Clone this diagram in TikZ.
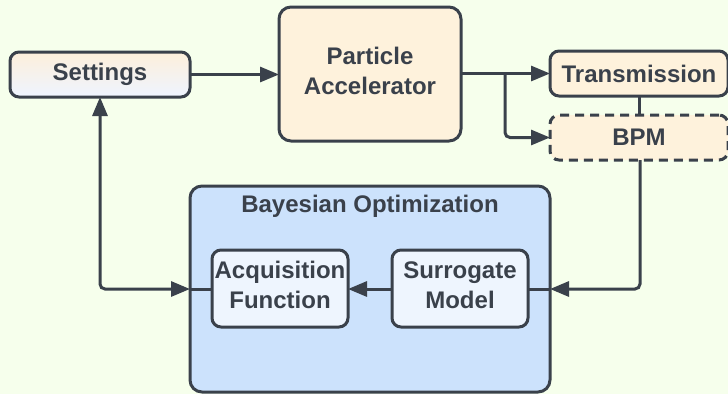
\documentclass[tikz,border=0pt]{standalone}
\usepackage{fontspec}
\setmainfont{Liberation Sans}
\usetikzlibrary{arrows.meta,positioning}
\definecolor{bgc}{HTML}{F6FFEC}
\definecolor{ink}{HTML}{3A414B}
\definecolor{orangefill}{HTML}{FEF2DC}
\definecolor{bofill}{HTML}{CCE2FC}
\definecolor{innerfill}{HTML}{EEF5FE}
\definecolor{gradtop}{HTML}{FDEFDB}
\definecolor{gradbot}{HTML}{EEF4FF}
\tikzset{
  txt/.style={text=ink, font=\fontsize{24}{30}\selectfont\bfseries, align=center},
  box/.style={txt, draw=ink, line width=3pt, rounded corners=9pt, inner sep=0pt, outer sep=0pt},
  twoline/.style={label={[txt, yshift=3.5pt]center:#1}},
  conn/.style={draw=ink, line width=3pt, rounded corners=5pt},
  head/.tip={Triangle[length=19pt,width=15pt]},
  tip/.style={-head},
}
\begin{document}
\begin{tikzpicture}[x=1pt,y=-1pt]
\fill[bgc] (0,0) rectangle (728,394);
\useasboundingbox (0,0) rectangle (728,394);
% boxes
\node[box, top color=gradtop, bottom color=gradbot, minimum width=180pt, minimum height=45pt] (set) at (100,74.5) {Settings};
\node[box, fill=orangefill, minimum width=182pt, minimum height=134pt, rounded corners=12pt, twoline={Particle\\Accelerator}] (acc) at (370,74) {};
\node[box, fill=orangefill, minimum width=178pt, minimum height=45pt] (tr) at (639,73.5) {Transmission};
\node[box, fill=orangefill, minimum width=178pt, minimum height=45pt, dash pattern=on 9pt off 6pt] (bpm) at (639,137.5) {BPM};
\node[box, fill=bofill, minimum width=360pt, minimum height=206pt, rounded corners=12pt] (bo) at (370,289) {};
\node[txt, anchor=center] (botitle) at (370,206) {Bayesian Optimization};
\node[box, fill=innerfill, minimum width=136pt, minimum height=77pt, twoline={Acquisition\\Function}] (acq) at (280,288.5) {};
\node[box, fill=innerfill, minimum width=136pt, minimum height=77pt, twoline={Surrogate\\Model}] (sur) at (460,288.5) {};
% connectors
\draw[conn, tip] (set.east) -- (acc.west |- set.east);
\draw[conn, tip] (acc.east |- tr.west) -- (tr.west);
\coordinate (br) at (505,73.5);
\draw[conn, tip] (br) |- (bpm.west);
\draw[conn] (tr.south) -- (bpm.north);
\coordinate (rc) at (640,289);
\draw[conn, tip] (bpm.south -| rc) |- (bo.east |- rc);
\draw[conn] (bo.east |- rc) -- (sur.east |- rc);
\draw[conn, tip] (sur.west |- rc) -- (acq.east |- rc);
\coordinate (lc) at (100,289);
\draw[conn] (acq.west |- lc) -- (bo.west |- lc);
\draw[conn, head-head] (set.south) |- (bo.west |- lc);
\end{tikzpicture}
\end{document}
